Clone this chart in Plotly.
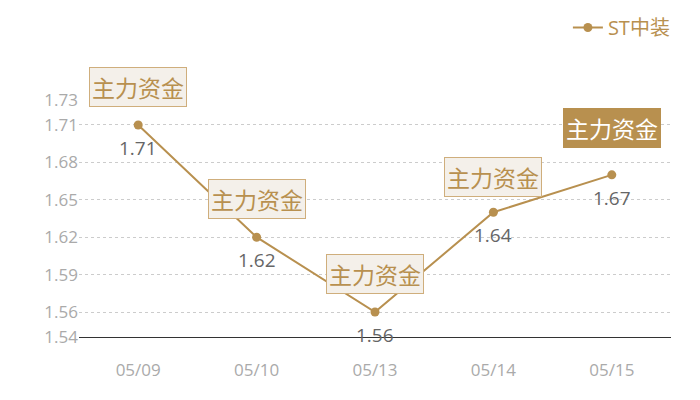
import plotly.graph_objects as go

dates = ["05/09", "05/10", "05/13", "05/14", "05/15"]
prices = [1.71, 1.62, 1.56, 1.64, 1.67]
y_ticks = [1.54, 1.56, 1.59, 1.62, 1.65, 1.68, 1.71, 1.73]
tag_text = "主力资金"
series_name = "ST中装"

gold = "#b8904f"
font_family = "Open Sans, Noto Sans CJK SC, sans-serif"

fig = go.Figure()
fig.add_trace(go.Scatter(
    x=dates, y=prices, name=series_name,
    mode="lines+markers",
    line=dict(color=gold, width=2),
    marker=dict(color=gold, size=9),
    showlegend=True,
))

# value labels under each point
for d, p in zip(dates, prices):
    fig.add_annotation(x=d, y=p, text=f"{p:.2f}", showarrow=False,
                       yanchor="top", yshift=-8,
                       font=dict(size=19, color="#666666", family=font_family))

# tag boxes above each point, last one highlighted
tag_shift = [18, 18, 18, 15, 27]
for i, (d, p) in enumerate(zip(dates, prices)):
    last = i == len(dates) - 1
    fig.add_annotation(x=d, y=p, text=tag_text, showarrow=False,
                       yanchor="bottom", yshift=tag_shift[i],
                       bgcolor=gold if last else "#f4f0ea",
                       bordercolor=gold if last else "#cfae7c",
                       borderwidth=1, borderpad=2,
                       font=dict(size=23, color="#ffffff" if last else gold,
                                 family="Noto Sans CJK SC"))

# page body has an 8px margin, so the figure is a bit smaller than the window
fig.update_layout(
    width=684, height=384,
    margin=dict(l=71, r=21, t=92, b=55),
    plot_bgcolor="white", paper_bgcolor="white",
    font=dict(family=font_family),
    legend=dict(orientation="h", xref="container", yref="container",
                x=0.975, xanchor="right", y=1.0, yanchor="top",
                font=dict(size=20, color=gold, family=font_family),
                itemwidth=30),
    xaxis=dict(type="category", range=[-0.5, 4.5], showgrid=False,
               showline=True, linecolor="#333333", linewidth=1,
               ticks="", tickfont=dict(size=17, color="#aaaaaa"),
               ticklabelstandoff=18, automargin=False),
    yaxis=dict(range=[1.54, 1.73], tickvals=y_ticks,
               ticktext=[f"{v:.2f}" for v in y_ticks],
               showgrid=True, gridcolor="#cccccc", griddash="dot", gridwidth=1,
               zeroline=False, showline=False, ticks="",
               tickfont=dict(size=17, color="#aaaaaa"), automargin=False),
)

fig.write_html("out.html")
